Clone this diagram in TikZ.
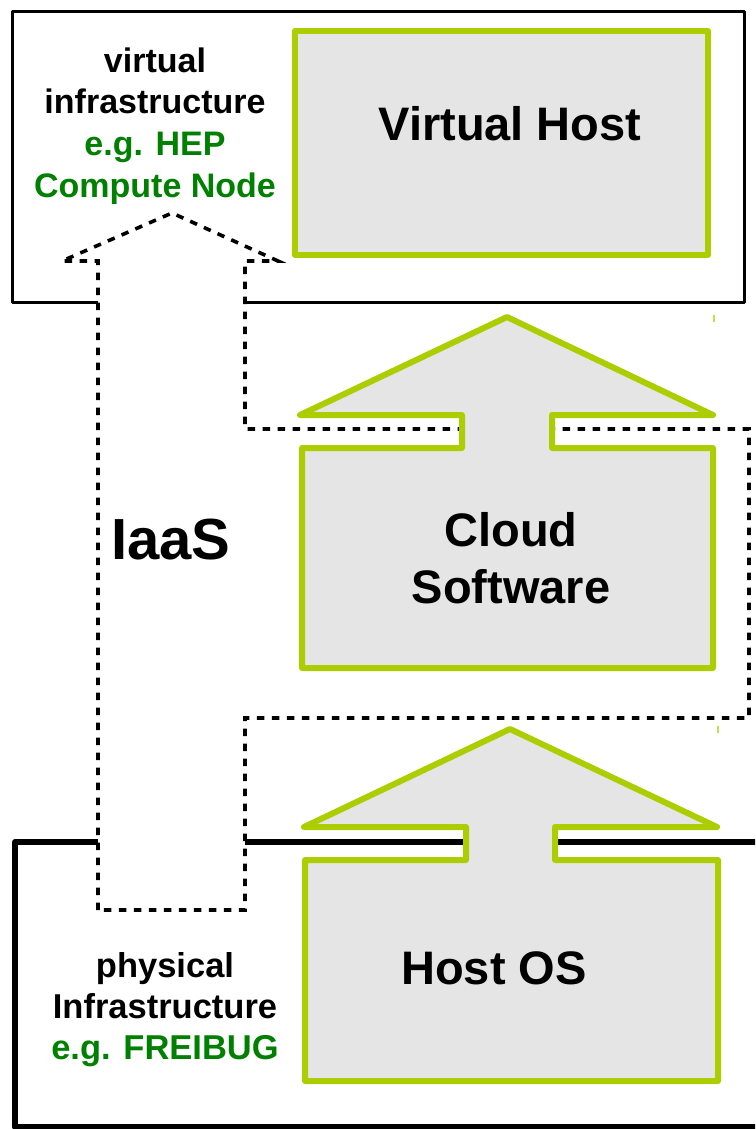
\documentclass[tikz,border=0pt]{standalone}
\usepackage{fontspec}
\setmainfont{Liberation Sans}
\definecolor{limegreen}{RGB}{172,206,0}
\definecolor{boxgray}{RGB}{229,229,229}
\definecolor{labelgreen}{RGB}{0,128,0}
\tikzset{
  layer/.style={draw=limegreen, fill=boxgray, line width=6pt, line join=round},
  frame/.style={draw=black, line width=3pt, line join=round},
  heavyframe/.style={draw=black, line width=6pt, line join=round},
  iaas/.style={draw=black, line width=3.6pt, dash pattern=on 7.5pt off 7.5pt},
  bigtext/.style={font=\bfseries\fontsize{47}{57}\selectfont, align=center, inner sep=0pt},
  sidetext/.style={font=\bfseries\fontsize{34}{41.8}\selectfont, align=center, inner sep=0pt},
  tick/.style={draw=limegreen!70, line width=1.5pt}
}
\begin{document}
\begin{tikzpicture}[x=1pt,y=-1pt]
\useasboundingbox (0,0) rectangle (755,1129);
\clip (0,0) rectangle (755,1129);

% virtual infrastructure frame, open where the IaaS arrow passes
\draw[frame] (98,302) -- (12,302) -- (12,12) -- (744,12) -- (744,302) -- (245,302);

% physical infrastructure frame
\draw[heavyframe] (98,842) -- (15,842) -- (15,1127) -- (770,1127);
\draw[heavyframe] (245,842) -- (770,842);

% IaaS outline arrow
\draw[iaas] (98,910) -- (98,261) -- (62,261) -- (172,213) -- (278,261) -- (245,261)
  -- (245,429) -- (749,429) -- (749,718) -- (245,718) -- (245,910) -- cycle;

% Virtual Host
\draw[layer] (295,31) rectangle (708,255);

% Cloud Software with arrow up
\draw[layer] (507,317) -- (713,415) -- (552,415) -- (552,448) -- (713,448) -- (713,668)
  -- (302,668) -- (302,448) -- (462,448) -- (462,415) -- (300,415) -- cycle;

% Host OS with arrow up
\draw[layer] (510,729) -- (717,827) -- (555,827) -- (555,860) -- (718,860) -- (718,1081)
  -- (305,1081) -- (305,860) -- (466,860) -- (466,827) -- (304,827) -- cycle;

% small marks at the right of the arrows
\draw[tick] (714,315) -- (714,322);
\draw[tick] (718,726) -- (718,733);

% labels
\node[bigtext] (vhost) at (510,124) {Virtual Host};
\node[bigtext] (cloud) at (511,558) {Cloud\\Software};
\node[bigtext] (hostos) at (494,968) {Host OS};
\node[font=\bfseries\fontsize{58}{60}\selectfont, inner sep=0pt] (iaaslabel) at (171,540) {IaaS};
\node[sidetext] (virtinfra) at (155,126) {virtual\\infrastructure\\\textcolor{labelgreen}{e.g. HEP}\\\textcolor{labelgreen}{Compute Node}};
\node[sidetext, font=\bfseries\fontsize{34.5}{41}\selectfont] (physinfra) at (165,1010) {physical\\Infrastructure\\\textcolor{labelgreen}{e.g. FREIBUG}};
\end{tikzpicture}
\end{document}
